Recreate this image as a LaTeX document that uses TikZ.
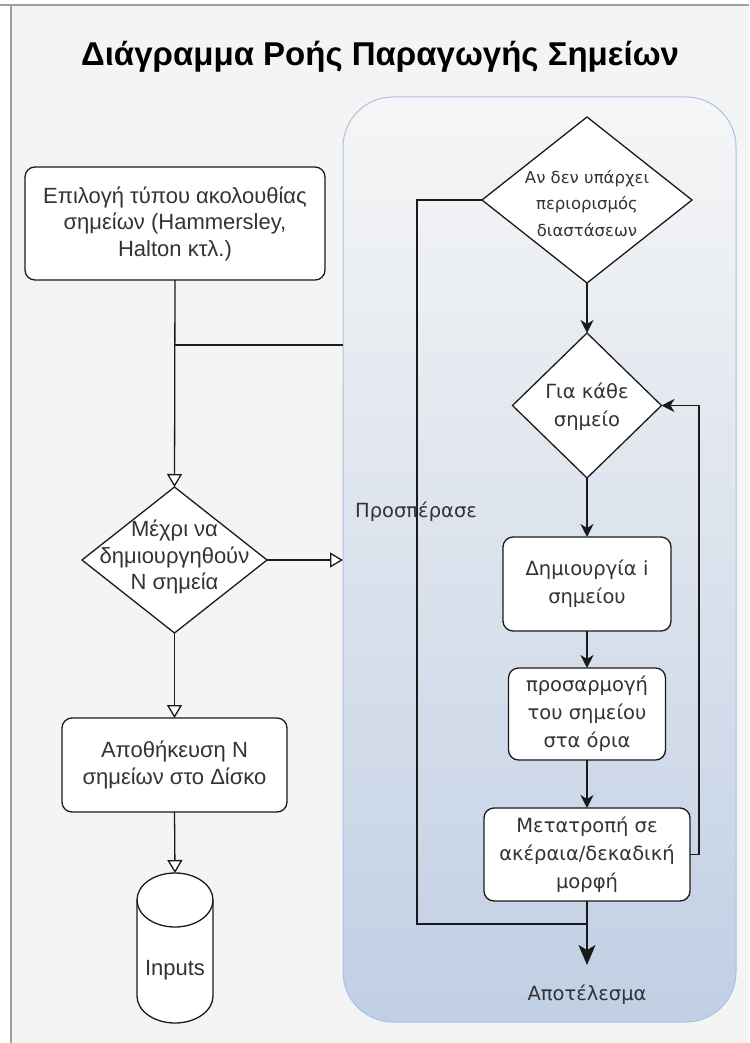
\documentclass[tikz,border=0pt]{standalone}
\usepackage{fontspec}
\setmainfont{Liberation Sans}
\newfontfamily\geofont{DejaVu Sans}
\usetikzlibrary{shapes.geometric,arrows.meta,calc}

\definecolor{pagebg}{HTML}{F4F4F4}
\definecolor{framegray}{HTML}{A0A0A0}
\definecolor{grouptop}{HTML}{F6F6F6}
\definecolor{groupbot}{HTML}{C1CFE4}
\definecolor{groupedge}{HTML}{A9C1E2}
\definecolor{ink}{HTML}{1A1A1A}
\definecolor{txt}{HTML}{333333}

\begin{document}
\begin{tikzpicture}[x=1pt,y=-1pt,
  every node/.style={outer sep=0pt, inner sep=0pt},
  lfont/.style={font=\fontsize{22}{26.5}\selectfont, text=txt, align=center},
  rfont/.style={font=\geofont\fontsize{19.5}{28}\selectfont, text=txt, align=center},
  sfont/.style={font=\geofont\fontsize{16.5}{26.5}\selectfont, text=txt, align=center},
  stepbox/.style={draw=ink, fill=white, line width=1.3pt, rounded corners=10pt},
  decision/.style={diamond, draw=ink, fill=white, line width=1.3pt},
  wire/.style={draw=ink, line width=1.3pt},
  openarrow/.style={wire, -{Triangle[length=13pt,width=15pt,fill=white]}},
  solidarrow/.style={wire, -{Stealth[length=13pt,width=13pt,inset=4pt]}},
]
\useasboundingbox (0,0) rectangle (749,1043);

% page and frame
\fill[white] (0,0) rectangle (749,1043);
\fill[pagebg] (11,5) rectangle (749,1043);
\draw[framegray, line width=1.5pt] (0,5) -- (749,5);
\draw[framegray, line width=1.5pt] (11,5) -- (11,1043);

% title
\node[font=\bfseries\fontsize{33}{40}\selectfont, text=black] (title) at (380,57)
  {Διάγραμμα Ροής Παραγωγής Σημείων};

% generation group
\node[draw=groupedge, line width=1pt, top color=grouptop, bottom color=groupbot,
      rounded corners=50pt, minimum width=393, minimum height=925] (grp) at (539.5,559.5) {};

% left column
\node[stepbox, lfont, minimum width=300, minimum height=113] (pick) at (175,223.5)
  {Επιλογή τύπου ακολουθίας\\σημείων (Hammersley,\\Halton κτλ.)};
\node[decision, minimum width=185, minimum height=146] (count) at (174.5,560) {};
\node[lfont] (countT) at (174.5,557) {Μέχρι να\\δημιουργηθούν\\Ν σημεία};
\node[stepbox, lfont, minimum width=225, minimum height=94] (store) at (174.5,765)
  {Αποθήκευση Ν\\σημείων στο Δίσκο};

% storage cylinder
\draw[wire, fill=white] (137,900) -- (137,996)
  arc[start angle=180, end angle=0, x radius=38, y radius=27]
  -- (213,900) arc[start angle=0, end angle=-180, x radius=38, y radius=27] -- cycle;
\draw[wire] (137,900) arc[start angle=180, end angle=0, x radius=38, y radius=27];
\coordinate (dbtop) at (175,873);
\node[lfont] (db) at (175,970) {Inputs};

% right column
\node[decision, minimum width=210, minimum height=166] (limit) at (587,200) {};
\node[sfont] (limitT) at (587,203.5) {Αν δεν υπάρχει\\περιορισμός\\διαστάσεων};
\node[decision, minimum width=149, minimum height=145] (each) at (587,405.5) {};
\node[rfont] (eachT) at (587,406.5) {Για κάθε\\σημείο};
\node[stepbox, rfont, minimum width=168, minimum height=94] (make) at (587,584)
  {Δημιουργία i\\σημείου};
\node[stepbox, rfont, minimum width=157, minimum height=92] (fit) at (587,714)
  {προσαρμογή\\του σημείου\\στα όρια};
\node[stepbox, rfont, minimum width=206, minimum height=93] (conv) at (587,854.5)
  {Μετατροπή σε\\ακέραια/δεκαδική\\μορφή};
\node[rfont, minimum height=60] (result) at (587,995) {Αποτέλεσμα};

% left connectors
\draw[openarrow] (pick.south) -- (count.north);
\coordinate (fork) at (175,345);
\draw[wire] (fork) -- (fork -| grp.west);
\draw[openarrow] (count.east) -- (count.east -| grp.west);
\draw[openarrow] (count.south) -- (store.north);
\draw[openarrow] (store.south) -- (dbtop);

% right connectors
\coordinate (join) at (587,924);
\draw[wire] (limit.west) -- ++(-65,0) |- (join);
\node[rfont] (skip) at (416,512) {Προσπέρασε};
\draw[solidarrow] (limit.south) -- (each.north);
\draw[solidarrow] (each.south) -- (make.north);
\draw[solidarrow] (make.south) -- (fit.north);
\draw[solidarrow] (fit.south) -- (conv.north);
\draw[solidarrow] (conv.east) -- ++(9,0) |- (each.east);
\draw[wire, -{Stealth[length=20pt,width=17pt,inset=5pt]}] (conv.south) -- (result.north);
\end{tikzpicture}
\end{document}
